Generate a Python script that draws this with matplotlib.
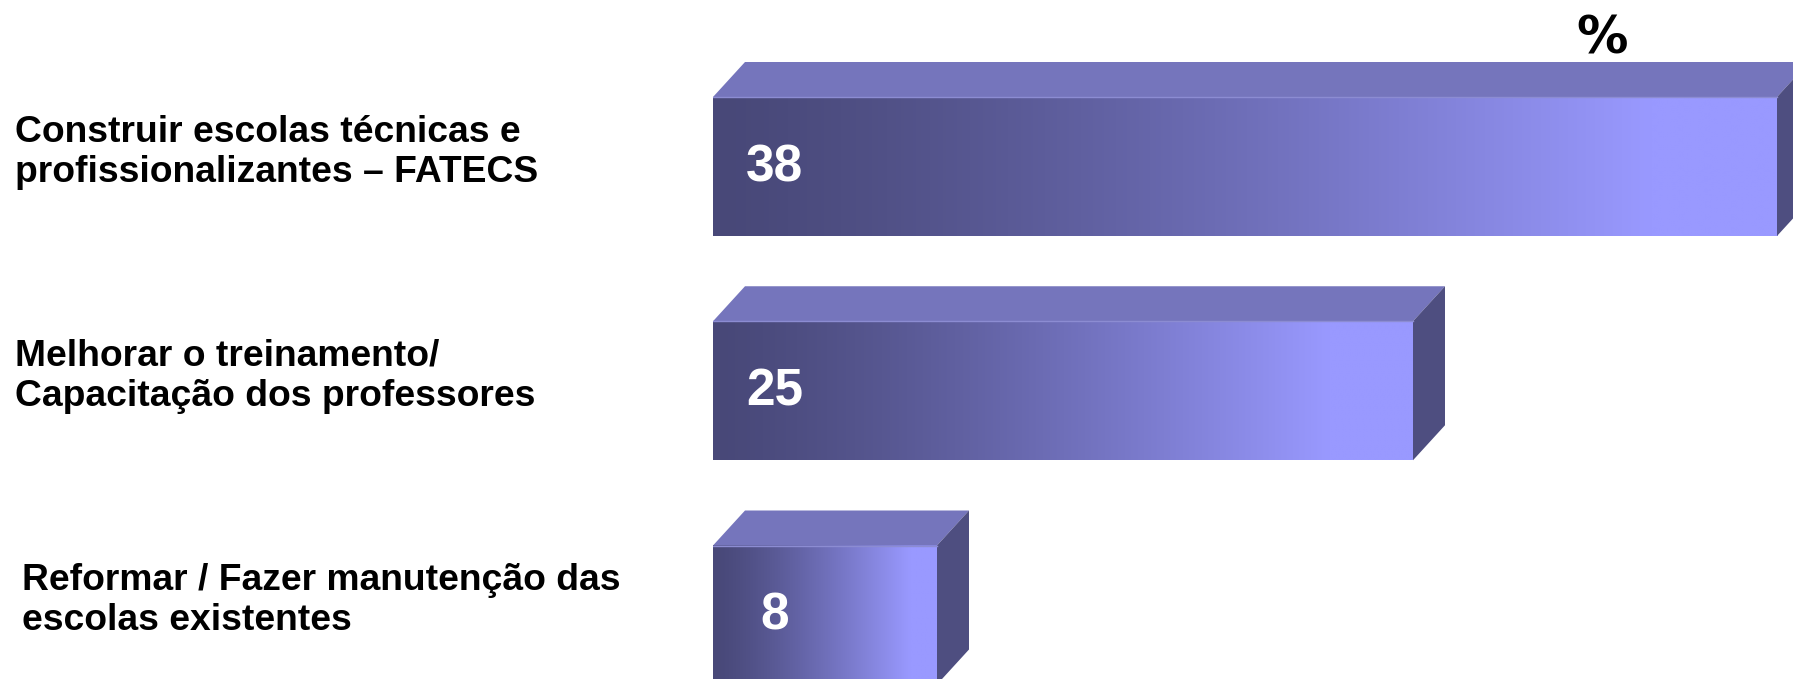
import matplotlib.pyplot as plt
import numpy as np
from matplotlib.patches import Polygon
from matplotlib.colors import to_rgb
from matplotlib.transforms import blended_transform_factory

# Dados
categorias = [
    ['Construir escolas técnicas e', 'profissionalizantes – FATECS'],
    ['Melhorar o treinamento/', 'Capacitação dos professores'],
    ['Reformar / Fazer manutenção das', 'escolas existentes'],
]
valores = [38, 25, 8]
rotulos = ['38', '25', '8']

# Cores
cor_escura = np.array(to_rgb('#484878'))
cor_clara = np.array(to_rgb('#9999ff'))
cor_topo = '#7575bc'
cor_lado = '#4e4e80'

plt.rcParams['font.family'] = ['Liberation Sans', 'DejaVu Sans']

W, H = 1793, 679
fig = plt.figure(figsize=(W / 100, H / 100), dpi=100)
x0 = 713          # pixel do zero
px_unidade = 28   # pixels por ponto percentual
passo = 224.25    # distância vertical entre barras (px)
centro0 = 166.5   # centro da primeira barra (px)

ax = fig.add_axes([x0 / W, 0, (W - x0) / W, 1])

alt = 139 / passo       # altura da face frontal
dx = 32 / px_unidade    # profundidade horizontal
dy = 35 / passo         # profundidade vertical

# gradiente da face frontal
t = np.linspace(0, 1, 400)
f = np.clip(t / 0.88, 0, 1) ** 1.3
grad = cor_escura[None, :] + f[:, None] * (cor_clara - cor_escura)[None, :]
grad = grad[None, :, :]

for i, v in enumerate(valores):
    topo = i - alt / 2
    base = i + alt / 2
    ax.imshow(grad, extent=(0, v, base, topo), aspect='auto',
              interpolation='bilinear', zorder=2)
    ax.add_patch(Polygon([(0, topo), (dx, topo - dy), (v + dx, topo - dy), (v, topo)],
                         closed=True, facecolor=cor_topo, edgecolor='none', zorder=3))
    ax.plot([0, v], [topo, topo], color='#8c8cd2', lw=1, zorder=4)
    ax.add_patch(Polygon([(v, topo), (v + dx, topo - dy), (v + dx, base - dy), (v, base)],
                         closed=True, facecolor=cor_lado, edgecolor='none', zorder=3))
    ax.text(2.2, i + 14.5 / passo, rotulos[i], color='white', fontsize=37,
            fontweight='bold', ha='center', va='baseline', zorder=5)

ax.set_xlim(0, (W - x0) / px_unidade)
ax.set_ylim((H - centro0) / passo, -centro0 / passo)
ax.axis('off')

# rótulos das categorias
trans = blended_transform_factory(fig.transFigure, ax.transData)
margens = [15, 15, 22]
for i, linhas in enumerate(categorias):
    ax.text(margens[i] / W, i - 25 / passo, linhas[0], transform=trans,
            fontsize=26.8, fontweight='bold', ha='left', va='baseline', color='black')
    ax.text(margens[i] / W, i + 15 / passo, linhas[1], transform=trans,
            fontsize=26.8, fontweight='bold', ha='left', va='baseline', color='black')

fig.text(1602 / W, 1 - 40 / H, '%', fontsize=37, fontweight='bold', ha='center',
         va='center', family='DejaVu Sans', color='black')

fig.savefig('out.png', dpi=100)
